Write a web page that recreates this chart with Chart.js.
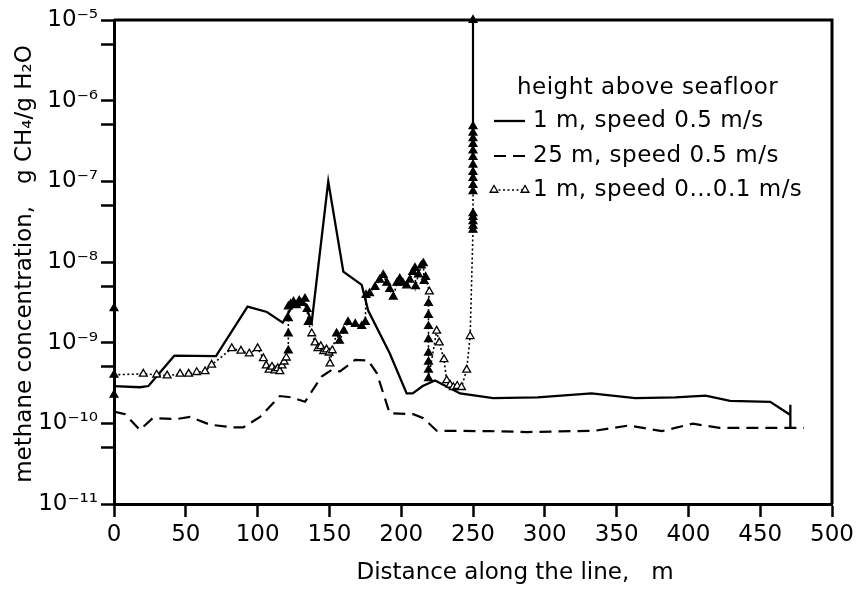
<!DOCTYPE html>
<html>
<head>
<meta charset="utf-8">
<script src="https://cdn.jsdelivr.net/npm/chart.js@4.4.1/dist/chart.umd.min.js"></script>
<style>
  html, body { margin: 0; padding: 0; background: #fff; }
</style>
</head>
<body>
<canvas id="myChart" width="866" height="589"></canvas>
<script>
const FONT = '"DejaVu Sans", sans-serif';

// 1 m above seafloor, speed 0.5 m/s
const solidX = [0, 18, 24, 42, 71, 93, 106.5, 117.5, 124, 133, 137.7, 149.2, 159.7, 172.5, 177, 192, 203.8, 208, 215, 223.5, 231, 241, 264, 295, 332.5, 363, 391, 412, 429, 457, 471, 471, 471];
const solidY = [2.9e-10, 2.8e-10, 2.9e-10, 6.9e-10, 6.8e-10, 2.8e-9, 2.4e-9, 1.77e-9, 2.8e-9, 3.0e-9, 1.8e-9, 1.0e-7, 7.6e-9, 5.2e-9, 2.5e-9, 7.4e-10, 2.35e-10, 2.35e-10, 2.9e-10, 3.4e-10, 2.9e-10, 2.35e-10, 2.05e-10, 2.1e-10, 2.35e-10, 2.05e-10, 2.1e-10, 2.2e-10, 1.9e-10, 1.85e-10, 1.27e-10, 1.7e-10, 0.9e-10];

// 25 m above seafloor, speed 0.5 m/s
const dashX = [0, 7.7, 18, 27, 43.6, 53, 67, 83, 90, 101.7, 115.6, 123.7, 133, 144.6, 151.6, 157.4, 167.8, 177, 183, 192, 208.4, 215.4, 224.7, 262, 287.6, 335, 358.4, 381.6, 403, 421.7, 480.5];
const dashY = [1.4e-10, 1.3e-10, 8.3e-11, 1.16e-10, 1.13e-10, 1.2e-10, 9.6e-11, 8.9e-11, 8.9e-11, 1.2e-10, 2.18e-10, 2.1e-10, 1.85e-10, 3.8e-10, 4.6e-10, 4.4e-10, 6.1e-10, 6.0e-10, 4.2e-10, 1.33e-10, 1.3e-10, 1.16e-10, 8.1e-11, 8.0e-11, 7.8e-11, 8.1e-11, 9.4e-11, 8.0e-11, 9.9e-11, 8.8e-11, 8.8e-11];

// 1 m above seafloor, speed 0...0.1 m/s (repeated x = ship standing still)
const triX = [0, 0, 0,
  20.4, 29.7, 37, 46, 52, 57.6, 63.4, 68, 82, 88.4, 94.2, 100, 104, 106, 108, 110, 112, 114, 115.5, 117, 118.5, 120,
  121.4, 121.4, 121.4, 121.4,
  123, 125, 127, 129, 131, 133, 134.5, 135.3, 137.7, 140, 142, 144, 146, 148, 149.8, 150.4, 152, 155, 157, 160, 163, 168, 172.5, 175,
  175.5, 178, 181.8, 185, 187.5, 190, 192, 194.5, 197, 199, 201, 203.8, 206, 208, 209.6, 210, 212, 214, 215.4, 216, 217, 219.6,
  219, 219, 219, 219, 219, 219, 219, 219,
  224.7, 226.5, 229.8, 231.7, 234, 236.3, 239, 242, 245.6, 248,
  250, 250, 250, 250, 250, 250, 250, 250, 250, 250, 250, 250, 250, 250, 250, 250, 250];
const triY = [2.25e-10, 2.67e-9, 4.0e-10,
  4.1e-10, 4.0e-10, 3.9e-10, 4.1e-10, 4.1e-10, 4.3e-10, 4.4e-10, 5.3e-10, 8.5e-10, 7.9e-10, 7.3e-10, 8.5e-10, 6.4e-10, 5.2e-10, 4.6e-10, 5.0e-10, 4.5e-10, 4.8e-10, 4.4e-10, 5.2e-10, 5.8e-10, 6.5e-10,
  8e-10, 1.3e-9, 2.0e-9, 2.8e-9,
  3.0e-9, 3.2e-9, 2.9e-9, 3.3e-9, 3.1e-9, 3.5e-9, 2.6e-9, 1.8e-9, 1.3e-9, 1.0e-9, 8.5e-10, 9e-10, 7.8e-10, 8.2e-10, 7.5e-10, 5.5e-10, 8e-10, 1.3e-9, 1.05e-9, 1.4e-9, 1.8e-9, 1.7e-9, 1.6e-9, 1.8e-9,
  3.9e-9, 4.1e-9, 4.9e-9, 6e-9, 6.9e-9, 5.5e-9, 4.6e-9, 3.7e-9, 5.5e-9, 6.2e-9, 5.5e-9, 5.1e-9, 6e-9, 7.5e-9, 8.4e-9, 5e-9, 7e-9, 9e-9, 9.6e-9, 5.8e-9, 6.5e-9, 4.3e-9,
  3.1e-9, 2.2e-9, 1.6e-9, 1.1e-9, 7.5e-10, 5.8e-10, 4.6e-10, 3.6e-10,
  1.4e-9, 1.0e-9, 6.2e-10, 3.4e-10, 3.0e-10, 2.8e-10, 2.9e-10, 2.8e-10, 4.6e-10, 1.2e-9,
  2.5e-8, 2.8e-8, 3.2e-8, 3.6e-8, 4e-8, 7.5e-8, 9e-8, 1.1e-7, 1.3e-7, 1.6e-7, 2e-7, 2.4e-7, 2.9e-7, 3.4e-7, 4e-7, 4.8e-7, 1e-5];

// stretches where the original markers run together into solid black
const denseSpans = [[121, 136], [155, 176], [176, 219]];

const xTicks = [0, 50, 100, 150, 200, 250, 300, 350, 400, 450, 500];
const yTicks = [1e-11, 5e-11, 1e-10, 5e-10, 1e-9, 5e-9, 1e-8, 5e-8, 1e-7, 5e-7, 1e-6, 5e-6, 1e-5];

const seriesLabels = ['1 m, speed 0.5 m/s', '25 m, speed 0.5 m/s', '1 m, speed 0...0.1 m/s'];
const legendTitle = 'height above seafloor';
const xTitle = 'Distance along the line,   m';
const yTitle = 'methane concentration,   g CH\u2084/g H\u2082O';

const SUP = { '-': '\u207B', '0': '\u2070', '1': '\u00B9', '2': '\u00B2', '3': '\u00B3', '4': '\u2074', '5': '\u2075', '6': '\u2076', '7': '\u2077', '8': '\u2078', '9': '\u2079' };
function powerLabel(v) {
  const e = Math.log10(v);
  if (Math.abs(e - Math.round(e)) > 1e-6) return '';
  return '10' + String(Math.round(e)).split('').map(c => SUP[c]).join('');
}

const toPoints = (xs, ys) => xs.map((x, i) => ({ x, y: ys[i] }));
function filled(i) {
  const x = triX[i];
  if (triX[i - 1] === x || triX[i + 1] === x) return true;
  return denseSpans.some(([a, b]) => x >= a && x <= b);
}

const datasets = [
  {
    label: seriesLabels[0],
    data: toPoints(solidX, solidY),
    borderColor: '#000',
    borderWidth: 2.3,
    pointRadius: 0,
    order: 2
  },
  {
    label: seriesLabels[1],
    data: toPoints(dashX, dashY),
    borderColor: '#000',
    borderWidth: 2.2,
    borderDash: [12, 7],
    pointRadius: 0,
    order: 3
  },
  {
    label: seriesLabels[2],
    data: toPoints(triX, triY),
    borderColor: '#000',
    borderWidth: 1.6,
    borderDash: [2, 2.5],
    pointStyle: 'triangle',
    pointRadius: 4.5,
    pointBorderWidth: 1.3,
    pointBorderColor: '#000',
    pointBackgroundColor: ctx => filled(ctx.dataIndex) ? '#000' : '#fff',
    clip: false,
    segment: {
      // the tall stand at 250 m is drawn solid above ~5e-7
      borderDash: ctx => (ctx.p0.parsed.y >= 4e-7 && ctx.p1.parsed.y >= 4e-7) ? [] : undefined,
      borderWidth: ctx => (ctx.p0.parsed.y >= 4e-7 && ctx.p1.parsed.y >= 4e-7) ? 2.2 : undefined
    },
    order: 1
  }
];

const decor = {
  id: 'decor',
  afterDraw(chart) {
    const { ctx, chartArea: a } = chart;
    ctx.save();
    ctx.strokeStyle = '#000';
    ctx.lineWidth = 3;
    ctx.beginPath();
    ctx.moveTo(a.left, a.top);
    ctx.lineTo(a.right, a.top);
    ctx.lineTo(a.right, a.bottom);
    ctx.stroke();

    ctx.fillStyle = '#000';
    ctx.font = '23px ' + FONT;
    ctx.textBaseline = 'middle';
    ctx.textAlign = 'center';
    ctx.fillText(xTitle, 515, 573);
    ctx.save();
    ctx.translate(25, 264);
    ctx.rotate(-Math.PI / 2);
    ctx.fillText(yTitle, 0, 0);
    ctx.restore();

    // legend
    ctx.textAlign = 'left';
    ctx.letterSpacing = '0.5px';
    ctx.fillText(legendTitle, 517, 88);
    const rows = [121, 156, 190];
    const ds = chart.data.datasets;
    rows.forEach((y, i) => {
      ctx.fillText(ds[i].label, 533, y);
      ctx.save();
      ctx.strokeStyle = '#000';
      ctx.lineWidth = ds[i].borderWidth;
      ctx.setLineDash(ds[i].borderDash || []);
      ctx.beginPath();
      ctx.moveTo(494, y);
      ctx.lineTo(525, y);
      ctx.stroke();
      ctx.restore();
      if (ds[i].pointStyle) {
        ctx.save();
        ctx.fillStyle = '#fff';
        ctx.strokeStyle = '#000';
        ctx.lineWidth = ds[i].pointBorderWidth;
        const opt = { pointStyle: ds[i].pointStyle, radius: ds[i].pointRadius, borderWidth: ds[i].pointBorderWidth, rotation: 0 };
        Chart.helpers.drawPoint(ctx, opt, 494, y);
        Chart.helpers.drawPoint(ctx, opt, 525, y);
        ctx.restore();
      }
    });
    ctx.restore();
  }
};

const tickFont = { family: FONT, size: 23 };
const ctx = document.getElementById('myChart').getContext('2d');
new Chart(ctx, {
  type: 'line',
  data: { datasets },
  options: {
    responsive: false,
    animation: false,
    layout: { padding: { left: 0, right: 34, top: 20, bottom: 0 } },
    elements: { line: { tension: 0 } },
    plugins: { legend: { display: false }, tooltip: { enabled: false } },
    scales: {
      x: {
        type: 'linear',
        min: 0,
        max: 500,
        afterBuildTicks: s => { s.ticks = xTicks.map(v => ({ value: v })); },
        afterFit: s => { s.height = 85; },
        ticks: { font: tickFont, color: '#000', padding: 4, autoSkip: false, maxRotation: 0 },
        grid: { drawOnChartArea: false, tickLength: 13, tickWidth: 2.5, tickColor: '#000' },
        border: { color: '#000', width: 3 }
      },
      y: {
        type: 'logarithmic',
        min: 1e-11,
        max: 1e-5,
        afterBuildTicks: s => { s.ticks = yTicks.map(v => ({ value: v })); },
        afterFit: s => { s.width = 114; },
        ticks: { font: tickFont, color: '#000', padding: 3, autoSkip: false, callback: v => powerLabel(v) },
        grid: { drawOnChartArea: false, tickLength: 13, tickWidth: 2.5, tickColor: '#000' },
        border: { color: '#000', width: 3 }
      }
    }
  },
  plugins: [decor]
});
</script>
</body>
</html>
